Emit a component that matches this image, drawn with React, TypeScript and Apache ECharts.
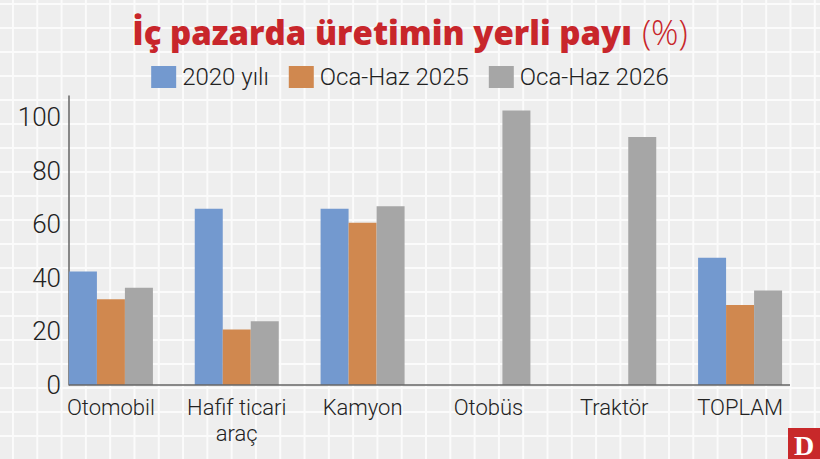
import React, { useEffect, useRef } from "react";
import * as echarts from "echarts";

const categories = ["Otomobil", "Hafif ticari\naraç", "Kamyon", "Otobüs", "Traktör", "TOPLAM"];
const seriesNames = ["2020 yılı", "Oca-Haz 2025", "Oca-Haz 2026"];
const values2020 = [42.4, 65.9, 65.9, null, null, 47.6];
const values2025 = [32.0, 20.7, 60.6, null, null, 29.9];
const values2026 = [36.3, 23.8, 66.8, 102.6, 92.7, 35.3];
const colors = ["#7399cf", "#d0884f", "#a6a6a6"];

const LABEL_FONT = "Roboto";

export default function App() {
  const ref = useRef<HTMLDivElement>(null);
  useEffect(() => {
    const chart = echarts.init(ref.current!, null, { renderer: "svg" });
    const mk = (name: string, data: (number | null)[], color: string) => ({
      name,
      type: "bar",
      data,
      barWidth: 28,
      barGap: "0%",
      itemStyle: { color },
    });
    chart.setOption({
      animation: false,
      backgroundColor: "transparent",
      title: {
        left: "center",
        top: 10,
        text: "{b|İç pazarda üretimin yerli payı}{l|(%)}",
        textStyle: {
          rich: {
            b: { fontFamily: "Open Sans", fontWeight: 800, fontSize: 33, color: "#c8262b", padding: [0, 10, 0, 0] },
            l: { fontFamily: "Open Sans", fontWeight: 300, fontSize: 34, color: "#c8262b" },
          },
        },
      },
      legend: {
        top: 60,
        left: "center",
        icon: "rect",
        itemWidth: 25,
        itemHeight: 22,
        itemGap: 20,
        data: seriesNames,
        textStyle: { fontFamily: LABEL_FONT, fontWeight: 300, fontSize: 24, color: "#222", padding: [0, 0, 0, 1] },
      },
      grid: { left: 48, right: 17, top: 96, bottom: 74, containLabel: false },
      xAxis: {
        type: "category",
        data: categories,
        axisLine: { show: false },
        axisTick: { show: false },
        axisLabel: {
          margin: 9,
          interval: 0,
          fontFamily: LABEL_FONT,
          fontWeight: 300,
          fontSize: 22,
          lineHeight: 26,
          color: "#222",
          verticalAlign: "top",
        },
      },
      yAxis: {
        type: "value",
        min: 0,
        max: 108,
        interval: 20,
        offset: -21,
        axisLine: { show: true, lineStyle: { color: "#666", width: 1.5 } },
        axisTick: { show: false },
        splitLine: { show: false },
        axisLabel: {
          margin: 8,
          fontFamily: LABEL_FONT,
          fontWeight: 300,
          fontSize: 26,
          color: "#222",
        },
      },
      series: [
        mk(seriesNames[0], values2020, colors[0]),
        mk(seriesNames[1], values2025, colors[1]),
        mk(seriesNames[2], values2026, colors[2]),
      ],
      graphic: [
        {
          type: "line",
          shape: { x1: 69, y1: 385, x2: 790, y2: 385 },
          style: { stroke: "#666", lineWidth: 1.5 },
          z: 10,
        },
        {
          type: "rect",
          shape: { x: 788, y: 428, width: 32, height: 31 },
          style: { fill: "#c8282a" },
        },
        {
          type: "text",
          x: 804,
          y: 445,
          style: {
            text: "D",
            fill: "#fff",
            font: "bold 28px 'Liberation Serif', 'DejaVu Serif', serif",
            align: "center",
            verticalAlign: "middle",
          },
        },
      ],
    });
    return () => chart.dispose();
  }, []);
  return (
    <div
      ref={ref}
      style={{
        position: "fixed",
        left: 0,
        top: 0,
        width: 820,
        height: 459,
        backgroundColor: "#eeeeee",
        backgroundImage:
          "linear-gradient(to right, #fbfbfb 2px, transparent 2px), linear-gradient(to bottom, #fbfbfb 2px, transparent 2px)",
        backgroundSize: "24.3px 24px",
        backgroundPosition: "12px 3px",
      }}
    />
  );
}
